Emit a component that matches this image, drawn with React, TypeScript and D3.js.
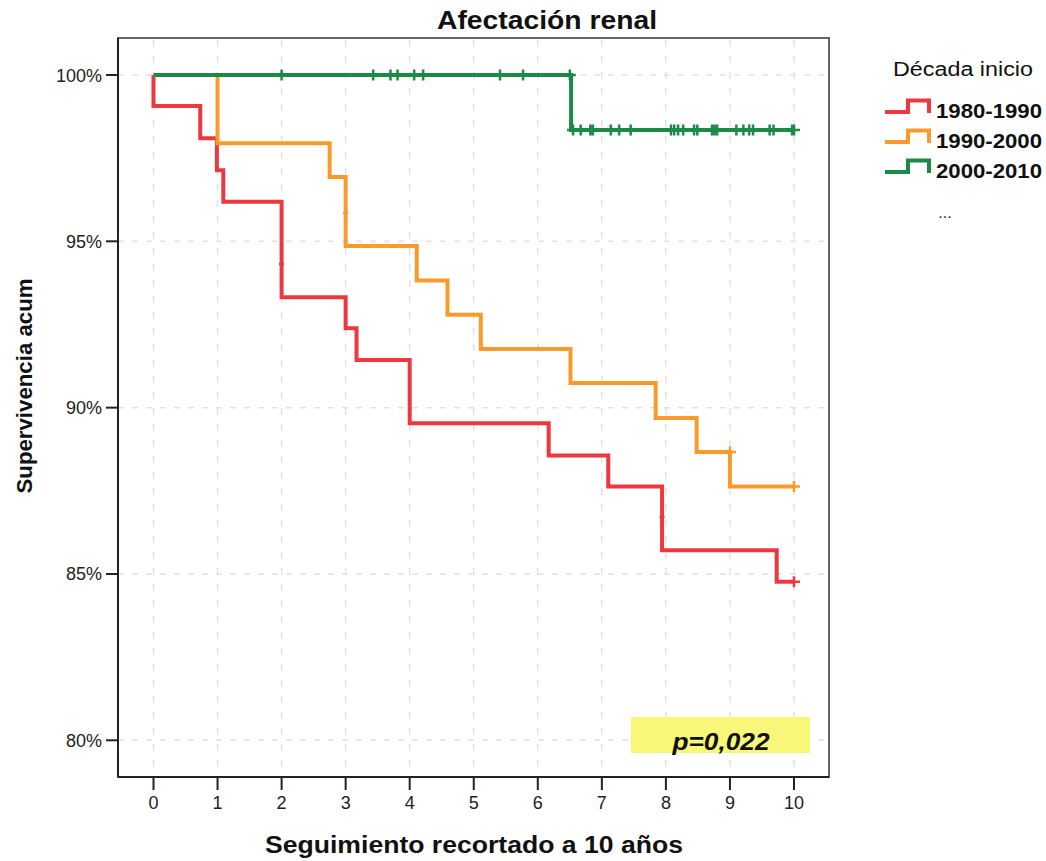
import React from "react";
import * as d3 from "d3";

const xTicks = [0, 1, 2, 3, 4, 5, 6, 7, 8, 9, 10];
const yTicks = [80, 85, 90, 95, 100];

const seriesNames = ["1980-1990", "1990-2000", "2000-2010"];
const seriesColors = ["#ee3840", "#fa9a2a", "#1b8a46"];

// Kaplan-Meier event times and survival (%) after each event
const redTimes = [0, 0.73, 0.99, 1.09, 2.0, 3.0, 3.17, 4.0, 6.17, 7.1, 7.94, 9.73];
const redSurv = [99.07, 98.1, 97.14, 96.19, 93.32, 92.39, 91.43, 89.53, 88.56, 87.63, 85.71, 84.77];
const orangeTimes = [1.0, 2.75, 3.0, 4.11, 4.59, 5.11, 6.51, 7.84, 8.48, 9.0];
const orangeSurv = [97.95, 96.93, 94.86, 93.82, 92.79, 91.76, 90.74, 89.69, 88.67, 87.63];
const greenTimes = [6.52];
const greenSurv = [98.35];

// censored observations
const redCensorT = [2.0, 7.94, 10];
const redCensorS = [94.32, 86.72, 84.77];
const orangeCensorT = [3.0, 9.0, 10];
const orangeCensorS = [95.86, 88.67, 87.63];
const greenCensorT = [2.0, 3.43, 3.7, 3.81, 4.07, 4.21, 5.41, 5.77, 6.5,
  6.55, 6.67, 6.82, 6.86, 7.14, 7.27, 7.45, 8.08, 8.13, 8.19, 8.27, 8.44, 8.49,
  8.72, 8.76, 8.8, 9.1, 9.21, 9.3, 9.36, 9.62, 9.68, 9.97, 10.0];
const greenCensorS = [100, 100, 100, 100, 100, 100, 100, 100, 100,
  98.35, 98.35, 98.35, 98.35, 98.35, 98.35, 98.35, 98.35, 98.35, 98.35, 98.35, 98.35, 98.35,
  98.35, 98.35, 98.35, 98.35, 98.35, 98.35, 98.35, 98.35, 98.35, 98.35, 98.35];

const FONT = "'Liberation Sans', Arial, sans-serif";

export default function App() {
  const W = 1046, H = 861;
  const frame = { l: 118, t: 38, r: 829, b: 777 };
  const x = d3.scaleLinear().domain([0, 10]).range([153.5, 794]);
  const y = d3.scaleLinear().domain([80, 100]).range([740.3, 75]);

  const stepLine = d3.line<[number, number]>()
    .x((d) => x(d[0]))
    .y((d) => y(d[1]))
    .curve(d3.curveStepAfter);

  const build = (times: number[], surv: number[]) => {
    const pts: [number, number][] = [[0, 100]];
    times.forEach((t, i) => pts.push([t, surv[i]]));
    pts.push([10, surv.length ? surv[surv.length - 1] : 100]);
    return stepLine(pts) || "";
  };

  const series = [
    { times: redTimes, surv: redSurv, ct: redCensorT, cs: redCensorS },
    { times: orangeTimes, surv: orangeSurv, ct: orangeCensorT, cs: orangeCensorS },
    { times: greenTimes, surv: greenSurv, ct: greenCensorT, cs: greenCensorS },
  ];

  // censor "+" mark; marks sitting on a vertical drop show only a small notch
  const plus = (t: number, s: number, times: number[]) => {
    const cx = x(t), cy = y(s);
    const onDrop = times.some((tt) => Math.abs(tt - t) < 0.02) && t < 10 && !(s === 100 || s === 98.35) && !(Math.abs(t - 9.0) < 0.01);
    if (onDrop) return `M${cx - 2.5},${cy}H${cx + 2.5}`;
    return `M${cx - 6},${cy}H${cx + 6}M${cx},${cy - 5.5}V${cy + 5.5}`;
  };

  return (
    <svg width={W} height={H} style={{ position: "absolute", left: 0, top: 0, background: "#fff" }} fontFamily={FONT}>
      <rect x={0} y={0} width={W} height={H} fill="#fff" />
      {/* title */}
      <text x={547} y={29} textAnchor="middle" fontSize={25} fontWeight="bold" fill="#111" textLength={220} lengthAdjust="spacingAndGlyphs">Afectación renal</text>

      {/* gridlines */}
      {xTicks.map((t) => (
        <line key={"gx" + t} x1={x(t)} x2={x(t)} y1={frame.t + 2} y2={frame.b} stroke="#e2e2e2" strokeWidth={1.5} strokeDasharray="7 9" />
      ))}
      {yTicks.map((v) => (
        <line key={"gy" + v} x1={frame.l} x2={frame.r} y1={y(v)} y2={y(v)} stroke="#e2e2e2" strokeWidth={1.5} strokeDasharray="6 8" />
      ))}

      {/* frame */}
      <rect x={frame.l} y={frame.t} width={frame.r - frame.l} height={frame.b - frame.t} fill="none" stroke="#666" strokeWidth={2} />
      <line x1={frame.l} x2={frame.l} y1={frame.t} y2={frame.b} stroke="#222" strokeWidth={2} />
      <line x1={frame.l} x2={frame.r} y1={frame.b} y2={frame.b} stroke="#222" strokeWidth={2} />

      {/* y ticks */}
      {yTicks.map((v) => (
        <g key={"yt" + v}>
          <line x1={frame.l - 12} x2={frame.l} y1={y(v)} y2={y(v)} stroke="#222" strokeWidth={2} />
          <text x={102} y={y(v) + 6.5} textAnchor="end" fontSize={18} fill="#222">{v + "%"}</text>
        </g>
      ))}
      {/* x ticks */}
      {xTicks.map((t) => (
        <g key={"xt" + t}>
          <line x1={x(t)} x2={x(t)} y1={frame.b} y2={frame.b + 13} stroke="#222" strokeWidth={2} />
          <text x={x(t)} y={809} textAnchor="middle" fontSize={18} fill="#222">{t}</text>
        </g>
      ))}

      {/* axis labels */}
      <text x={474} y={853} textAnchor="middle" fontSize={24} fontWeight="bold" fill="#111" textLength={418} lengthAdjust="spacingAndGlyphs">Seguimiento recortado a 10 años</text>
      <text transform={`translate(32,386) rotate(-90)`} textAnchor="middle" fontSize={22} fontWeight="bold" fill="#111" textLength={215} lengthAdjust="spacingAndGlyphs">Supervivencia acum</text>

      {/* curves */}
      {series.map((s, i) => (
        <g key={"s" + i}>
          <path d={build(s.times, s.surv)} fill="none" stroke={seriesColors[i]} strokeWidth={4} strokeLinejoin="miter" strokeLinecap="butt" />
          <path d={s.ct.map((t, j) => plus(t, s.cs[j], s.times)).join("")} fill="none" stroke={seriesColors[i]} strokeWidth={2.5} />
        </g>
      ))}

      {/* p-value box */}
      <rect x={631} y={717} width={179} height={36} fill="#f8f77a" />
      <text x={721} y={750} textAnchor="middle" fontSize={23} fontWeight="bold" fontStyle="italic" fill="#111" textLength={97} lengthAdjust="spacingAndGlyphs">p=0,022</text>

      {/* legend */}
      <text x={893} y={76} fontSize={20} fill="#111" textLength={140} lengthAdjust="spacingAndGlyphs">Década inicio</text>
      {seriesNames.map((n, i) => {
        const yy = 112 + i * 30;
        return (
          <g key={"lg" + i}>
            <path d={`M885,${yy}H908V${yy - 11.5}H929V${yy + 1}`} fill="none" stroke={seriesColors[i]} strokeWidth={4} />
            <text x={936} y={yy + 5.5} fontSize={21} fontWeight="bold" fill="#111" textLength={106} lengthAdjust="spacingAndGlyphs">{n}</text>
          </g>
        );
      })}
      <text x={945} y={218} textAnchor="middle" fontSize={16} fill="#333">...</text>
    </svg>
  );
}
